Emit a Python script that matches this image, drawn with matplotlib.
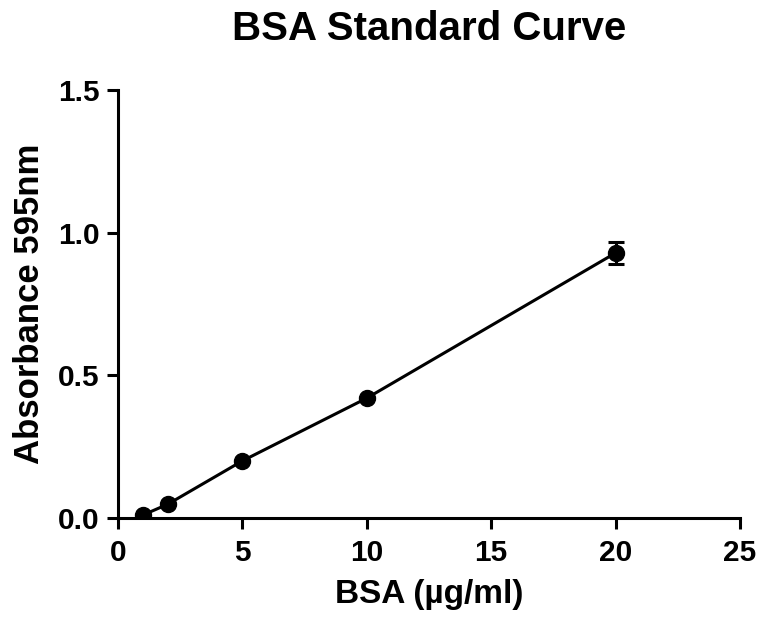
import numpy as np
import matplotlib.pyplot as plt

plt.rcParams['font.family'] = ['Liberation Sans', 'DejaVu Sans']
plt.rcParams['font.weight'] = 'bold'

# BSA standards and mean absorbance
bsa = [1, 2, 5, 10, 20]
absorbance = [0.01, 0.048, 0.20, 0.42, 0.929]
err = [0.0, 0.0, 0.0, 0.0, 0.038]

xticks = [0, 5, 10, 15, 20, 25]
yticks = [0.0, 0.5, 1.0, 1.5]

fig = plt.figure(figsize=(7.59, 6.21), dpi=100)
ax = fig.add_axes([0.1555, 0.166, 0.8195, 0.689])

ax.plot(bsa, absorbance, color='black', lw=2.2, zorder=2)
ax.errorbar(bsa, absorbance, yerr=err, fmt='o', color='black', ms=11.5,
            elinewidth=2.2, capsize=6, capthick=2.2, zorder=3)

ax.set_xlim(0, 25)
ax.set_ylim(0, 1.5)
ax.set_xticks(xticks)
ax.set_yticks(yticks)
ax.set_yticklabels(['%.1f' % v for v in yticks])
ax.tick_params(width=2.2, length=8, labelsize=21.5)
ax.tick_params(axis='x', pad=7)
ax.tick_params(axis='y', pad=5)
for s in ['top', 'right']:
    ax.spines[s].set_visible(False)
for s in ['left', 'bottom']:
    ax.spines[s].set_linewidth(2.2)
    ax.spines[s].set_capstyle('projecting')
for lab in ax.get_xticklabels() + ax.get_yticklabels():
    lab.set_fontweight('bold')

ax.set_xlabel('BSA (µg/ml)', fontsize=24, fontweight='bold', labelpad=9)
ax.set_ylabel('Absorbance 595nm', fontsize=25, fontweight='bold', labelpad=9)
ax.set_title('BSA Standard Curve', fontsize=29, fontweight='bold', pad=36)

fig.savefig('out.png', dpi=100)
